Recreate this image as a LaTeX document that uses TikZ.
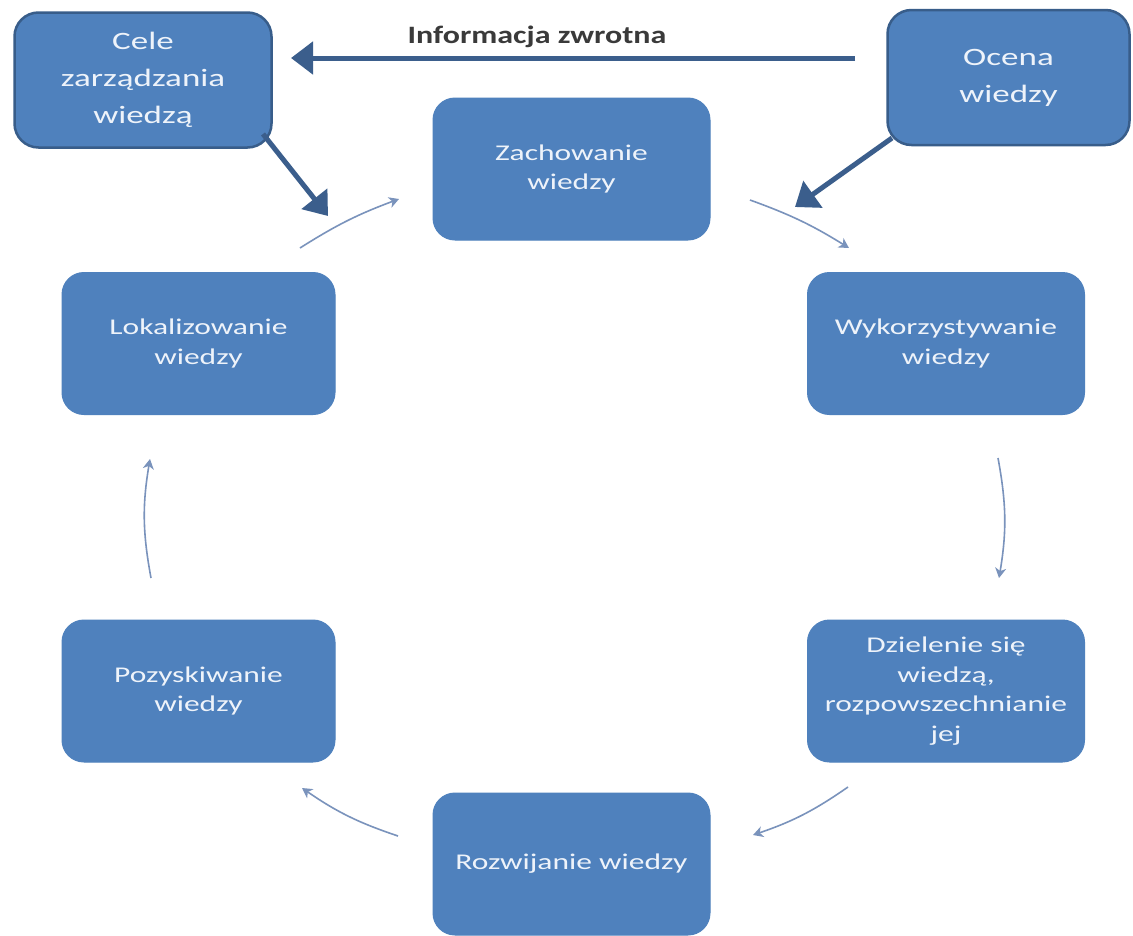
\documentclass[tikz,border=0pt]{standalone}
\usepackage{fontspec}
\setmainfont{Carlito}
\newfontfamily\boxfont[FakeStretch=1.40]{Carlito}
\newfontfamily\labelfont[FakeStretch=1.28]{Carlito Bold}
\usetikzlibrary{arrows.meta}
\definecolor{boxfill}{HTML}{4F81BD}
\definecolor{boxedge}{HTML}{385D8A}
\definecolor{thickarrow}{HTML}{3B5E8C}
\definecolor{thinarrow}{HTML}{7A93BC}
\definecolor{boxtext}{HTML}{EEF3FA}
\definecolor{labeltext}{HTML}{3A3A3A}
\tikzset{
  cyclebox/.style={draw=boxfill, line width=1pt, fill=boxfill, rounded corners=22pt,
    minimum width=277pt, minimum height=142pt, align=center, text=boxtext,
    font=\boxfont\fontsize{22.5}{29.5}\selectfont, inner sep=0pt},
  topbox/.style={draw=boxedge, line width=2.5pt, fill=boxfill, rounded corners=24pt,
    minimum height=135pt, align=center, text=boxtext,
    font=\boxfont\fontsize{25}{37}\selectfont, inner sep=0pt},
  bigarrow/.style={draw=thickarrow, line width=5pt,
    -{Triangle[length=22pt,width=32pt]}},
  smallarrow/.style={draw=thinarrow, line width=1.6pt,
    -{Stealth[length=10pt,width=11pt,inset=3pt]}},
}
\begin{document}
\begin{tikzpicture}[x=1pt,y=-1pt]
\useasboundingbox[fill=white] (0,0) rectangle (1133,935);

% top boxes
\node[topbox, minimum width=257pt] (cele) at (143,80) {Cele\\zarządzania\\wiedzą};
\node[topbox, minimum width=242pt] (ocena) at (1008.5,77.5) {Ocena\\wiedzy};

% cycle boxes
\node[cyclebox] (zach) at (571.5,169) {Zachowanie\\wiedzy};
\node[cyclebox] (wyk) at (946,343.5) {Wykorzystywanie\\wiedzy};
\node[cyclebox] (dziel) at (946,691) {Dzielenie się\\wiedzą,\\rozpowszechnianie\\jej};
\node[cyclebox] (rozw) at (571.5,864) {Rozwijanie wiedzy};
\node[cyclebox, minimum width=273pt] (poz) at (198.5,691) {Pozyskiwanie\\wiedzy};
\node[cyclebox, minimum width=273pt] (lok) at (198.5,343.5) {Lokalizowanie\\wiedzy};

% label
\node[font=\labelfont\fontsize{25}{30}\selectfont, text=labeltext] (info) at (537,37) {Informacja zwrotna};

% thick arrows
\coordinate (infoStart) at (855,58);
\coordinate (infoEnd) at (291,58);
\draw[bigarrow] (infoStart) -- (infoEnd);
\coordinate (celeStart) at (263,134);
\coordinate (celeEnd) at (328,216);
\draw[bigarrow] (celeStart) -- (celeEnd);
\coordinate (ocenaStart) at (892,138);
\coordinate (ocenaEnd) at (795,207);
\draw[bigarrow] (ocenaStart) -- (ocenaEnd);

% thin cycle arrows
\coordinate (a1s) at (300,248); \coordinate (a1e) at (399,199);
\draw[smallarrow] (a1s) to[bend left=6] (a1e);
\coordinate (a2s) at (750,200); \coordinate (a2e) at (849,248);
\draw[smallarrow] (a2s) to[bend left=6] (a2e);
\coordinate (a3s) at (998,458); \coordinate (a3e) at (999,578);
\draw[smallarrow] (a3s) to[bend left=10] (a3e);
\coordinate (a4s) at (848,787); \coordinate (a4e) at (753,835);
\draw[smallarrow] (a4s) to[bend left=8] (a4e);
\coordinate (a5s) at (398,836); \coordinate (a5e) at (302,788);
\draw[smallarrow] (a5s) to[bend left=8] (a5e);
\coordinate (a6s) at (151,578); \coordinate (a6e) at (150,459);
\draw[smallarrow] (a6s) to[bend left=10] (a6e);
\end{tikzpicture}
\end{document}
